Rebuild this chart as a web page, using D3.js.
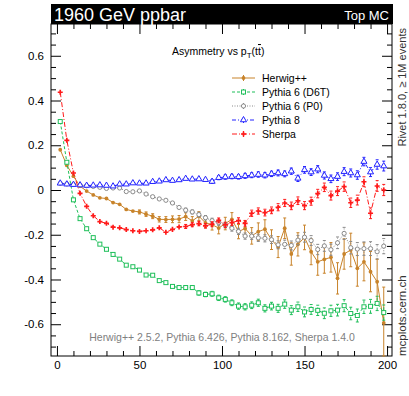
<!DOCTYPE html>
<html><head><meta charset="utf-8">
<script src="https://cdn.jsdelivr.net/npm/d3@7"></script>
<style>
body{margin:0;background:#fff;}
svg{font-family:"Liberation Sans",Arial,Helvetica,sans-serif;}
</style></head>
<body><svg id="c" width="409" height="396"></svg>
<script>
// ---- data (bins of 4 GeV, centres 2..198) ----
const binCenters = [2,6,10,14,18,22,26,30,34,38,42,46,50,54,58,62,66,70,74,78,82,86,90,94,98,102,106,110,114,118,122,126,130,134,138,142,146,150,154,158,162,166,170,174,178,182,186,190,194,198];
const seriesNames = ["Herwig++","Pythia 6 (D6T)","Pythia 6 (P0)","Pythia 8","Sherpa"];
const herwig = [0.180,0.110,0.062,0.017,-0.005,-0.022,-0.035,-0.038,-0.056,-0.064,-0.087,-0.094,-0.098,-0.108,-0.117,-0.131,-0.132,-0.131,-0.130,-0.119,-0.138,-0.117,-0.147,-0.155,-0.170,-0.150,-0.131,-0.186,-0.172,-0.205,-0.186,-0.175,-0.222,-0.255,-0.171,-0.286,-0.243,-0.212,-0.276,-0.321,-0.310,-0.301,-0.395,-0.286,-0.268,-0.350,-0.321,-0.365,-0.410,-0.594];
const herwigErr = [0.004,0.004,0.004,0.004,0.005,0.005,0.005,0.005,0.006,0.006,0.007,0.008,0.009,0.010,0.011,0.012,0.013,0.015,0.016,0.017,0.019,0.020,0.022,0.024,0.026,0.028,0.030,0.032,0.034,0.037,0.039,0.042,0.044,0.047,0.046,0.050,0.052,0.055,0.058,0.060,0.062,0.066,0.070,0.068,0.075,0.080,0.085,0.090,0.100,0.160];
const d6t = [0.306,0.124,-0.044,-0.128,-0.173,-0.213,-0.242,-0.265,-0.288,-0.309,-0.336,-0.343,-0.358,-0.380,-0.381,-0.405,-0.414,-0.431,-0.436,-0.436,-0.436,-0.460,-0.467,-0.464,-0.482,-0.489,-0.504,-0.519,-0.522,-0.515,-0.504,-0.529,-0.519,-0.529,-0.510,-0.537,-0.522,-0.545,-0.534,-0.538,-0.551,-0.540,-0.537,-0.517,-0.552,-0.561,-0.522,-0.520,-0.507,-0.548];
const d6tErr = [0.003,0.003,0.003,0.003,0.003,0.004,0.004,0.004,0.004,0.005,0.005,0.005,0.006,0.006,0.006,0.007,0.007,0.008,0.008,0.009,0.009,0.010,0.010,0.011,0.012,0.012,0.013,0.014,0.014,0.015,0.016,0.016,0.017,0.018,0.019,0.020,0.021,0.022,0.022,0.023,0.024,0.025,0.026,0.027,0.028,0.029,0.030,0.031,0.032,0.034];
const p0 = [0.030,0.027,0.025,0.022,0.019,0.016,0.012,0.007,0.009,0.009,-0.007,-0.008,-0.004,-0.018,-0.030,-0.040,-0.046,-0.058,-0.078,-0.090,-0.098,-0.110,-0.124,-0.137,-0.146,-0.157,-0.171,-0.185,-0.206,-0.206,-0.214,-0.216,-0.222,-0.245,-0.243,-0.248,-0.224,-0.211,-0.226,-0.266,-0.250,-0.267,-0.236,-0.194,-0.258,-0.264,-0.262,-0.262,-0.276,-0.251];
const p0Err = [0.003,0.003,0.003,0.003,0.003,0.004,0.004,0.004,0.004,0.005,0.005,0.005,0.006,0.006,0.006,0.007,0.007,0.008,0.008,0.009,0.009,0.010,0.010,0.011,0.012,0.012,0.013,0.014,0.014,0.015,0.016,0.016,0.017,0.018,0.019,0.020,0.021,0.022,0.022,0.023,0.024,0.025,0.026,0.027,0.028,0.029,0.030,0.031,0.032,0.034];
const py8 = [0.030,0.026,0.024,0.022,0.020,0.021,0.022,0.020,0.017,0.026,0.026,0.031,0.030,0.030,0.037,0.039,0.045,0.042,0.045,0.051,0.048,0.049,0.046,0.038,0.055,0.058,0.060,0.059,0.063,0.066,0.069,0.066,0.072,0.076,0.072,0.084,0.052,0.090,0.080,0.093,0.065,0.050,0.060,0.082,0.076,0.067,0.127,0.080,0.114,0.107];
const py8Err = [0.003,0.003,0.003,0.003,0.003,0.003,0.004,0.004,0.004,0.004,0.005,0.005,0.005,0.005,0.006,0.006,0.006,0.007,0.007,0.007,0.008,0.008,0.008,0.009,0.009,0.010,0.010,0.010,0.011,0.011,0.012,0.012,0.012,0.013,0.013,0.014,0.014,0.015,0.015,0.016,0.016,0.017,0.017,0.018,0.018,0.019,0.019,0.020,0.021,0.022];
const sherpa = [0.437,0.222,0.076,-0.015,-0.073,-0.115,-0.141,-0.149,-0.166,-0.169,-0.177,-0.182,-0.185,-0.182,-0.178,-0.169,-0.189,-0.176,-0.165,-0.163,-0.155,-0.150,-0.160,-0.153,-0.136,-0.156,-0.146,-0.137,-0.149,-0.104,-0.094,-0.101,-0.091,-0.077,-0.058,-0.071,-0.048,-0.070,-0.050,-0.016,0.012,-0.025,-0.005,0.015,-0.057,-0.045,0.037,-0.104,0.018,0.000];
const sherpaErr = [0.003,0.003,0.003,0.003,0.003,0.004,0.004,0.004,0.004,0.005,0.005,0.005,0.006,0.006,0.006,0.007,0.007,0.008,0.008,0.009,0.009,0.010,0.010,0.011,0.011,0.012,0.012,0.013,0.013,0.014,0.014,0.015,0.015,0.016,0.016,0.017,0.017,0.018,0.018,0.019,0.019,0.020,0.020,0.021,0.021,0.022,0.022,0.024,0.024,0.025];
const xMajorTicks = [0,50,100,150,200];
const yMajorTicks = [-0.6,-0.4,-0.2,0,0.2,0.4,0.6];
const yTickLabels = ["-0.6","-0.4","-0.2","0","0.2","0.4","0.6"];

// ---- layout ----
const svg = d3.select("#c");
const L=51, R=392, T=24, B=356;
const x = d3.scaleLinear().domain([-3.6,203]).range([L,R]);
const y = d3.scaleLinear().domain([-0.742,0.742]).range([B,T]);

const styles = [
  {name:seriesNames[0], vals:herwig, err:herwigErr, color:"#c8832a", dash:null, marker:"fcircle"},
  {name:seriesNames[1], vals:d6t, err:d6tErr, color:"#1fbf5a", dash:"3,2", marker:"square"},
  {name:seriesNames[2], vals:p0, err:p0Err, color:"#8a8a8a", dash:"1,1.5", marker:"circle"},
  {name:seriesNames[3], vals:py8, err:py8Err, color:"#2222ff", dash:"4,2,1,2", marker:"triangle"},
  {name:seriesNames[4], vals:sherpa, err:sherpaErr, color:"#ff1a1a", dash:"5,2,1,2", marker:"cross"}
];

// axes
const minorX = d3.range(0,201,10).filter(v=>v%50!==0);
const minorY = d3.range(-14,15).map(v=>v*0.05).filter(v=>Math.abs(Math.round(v*100))%20!==0);
function styleAxis(g){g.select(".domain").remove(); g.selectAll("line").attr("stroke","#000"); g.selectAll("text").attr("fill","#000").style("font-size","11.5px").attr("font-family","Liberation Sans, Arial, sans-serif");}
svg.append("g").attr("transform",`translate(0,${B})`).call(d3.axisBottom(x).tickValues(xMajorTicks).tickSize(-10).tickPadding(5).tickFormat(d3.format("d"))).call(styleAxis);
svg.append("g").attr("transform",`translate(0,${B})`).call(d3.axisBottom(x).tickValues(minorX).tickSize(-5).tickFormat("")).call(styleAxis);
svg.append("g").attr("transform",`translate(0,${T})`).call(d3.axisTop(x).tickValues(xMajorTicks).tickSize(-10).tickFormat("")).call(styleAxis);
svg.append("g").attr("transform",`translate(0,${T})`).call(d3.axisTop(x).tickValues(minorX).tickSize(-5).tickFormat("")).call(styleAxis);
svg.append("g").attr("transform",`translate(${L},0)`).call(d3.axisLeft(y).tickValues(yMajorTicks).tickSize(-10).tickPadding(7).tickFormat((d,i)=>yTickLabels[i])).call(styleAxis);
svg.append("g").attr("transform",`translate(${L},0)`).call(d3.axisLeft(y).tickValues(minorY).tickSize(-5).tickFormat("")).call(styleAxis);
svg.append("g").attr("transform",`translate(${R},0)`).call(d3.axisRight(y).tickValues(yMajorTicks).tickSize(-10).tickFormat("")).call(styleAxis);
svg.append("g").attr("transform",`translate(${R},0)`).call(d3.axisRight(y).tickValues(minorY).tickSize(-5).tickFormat("")).call(styleAxis);
svg.append("rect").attr("x",L).attr("y",T).attr("width",R-L).attr("height",B-T).attr("fill","none").attr("stroke","#000").attr("stroke-width",1);

// title bar
svg.append("rect").attr("x",L).attr("y",4).attr("width",R-L+1).attr("height",T-4).attr("fill","#000");
svg.append("text").attr("x",54).attr("y",21).attr("fill","#fff").style("font-size","18px").text("1960 GeV ppbar");
svg.append("text").attr("x",389).attr("y",20).attr("fill","#fff").attr("text-anchor","end").style("font-size","13px").text("Top MC");

// marker drawing
function drawMarker(g, m, color, cx, cy){
  if(m==="fcircle") g.append("circle").attr("cx",cx).attr("cy",cy).attr("r",1.9).attr("fill",color);
  else if(m==="circle") g.append("circle").attr("cx",cx).attr("cy",cy).attr("r",2.1).attr("fill","#fff").attr("stroke",color).attr("stroke-width",1);
  else if(m==="square") g.append("rect").attr("x",cx-2).attr("y",cy-2).attr("width",4).attr("height",4).attr("fill","#fff").attr("stroke",color).attr("stroke-width",1);
  else if(m==="triangle") g.append("path").attr("transform",`translate(${cx},${cy})`).attr("d",d3.symbol(d3.symbolTriangle,16)()).attr("fill","#fff").attr("stroke",color).attr("stroke-width",1);
  else if(m==="cross") g.append("path").attr("transform",`translate(${cx},${cy})`).attr("d",d3.symbol(d3.symbolCross,14)()).attr("fill",color);
}

const plot = svg.append("g");
styles.forEach(s=>{
  const g = plot.append("g");
  const line = d3.line().x((d,i)=>x(binCenters[i])).y(d=>y(d));
  g.append("path").attr("d",line(s.vals)).attr("fill","none").attr("stroke",s.color).attr("stroke-width",1).attr("stroke-dasharray",s.dash);
  s.vals.forEach((v,i)=>{
    const cx=x(binCenters[i]);
    const y1=Math.min(B,y(v-s.err[i])), y2=y(v+s.err[i]);
    if(y1-y2>4){
      g.append("line").attr("x1",cx).attr("x2",cx).attr("y1",y1).attr("y2",y2).attr("stroke",s.color).attr("stroke-width",1).attr("stroke-dasharray",s.dash);
      g.append("line").attr("x1",cx-1.5).attr("x2",cx+1.5).attr("y1",y1).attr("y2",y1).attr("stroke",s.color);
      g.append("line").attr("x1",cx-1.5).attr("x2",cx+1.5).attr("y1",y2).attr("y2",y2).attr("stroke",s.color);
    }
    drawMarker(g,s.marker,s.color,cx,y(v));
  });
});

// header text
const ht = svg.append("text").attr("x",172).attr("y",55).attr("fill","#000").style("font-size","10.5px");
ht.append("tspan").text("Asymmetry vs p");
ht.append("tspan").attr("dy",3).style("font-size","8px").text("T");
ht.append("tspan").attr("dy",-3).text("(t");
ht.append("tspan").style("text-decoration","overline").text("t");
ht.append("tspan").text(")");

// legend
styles.forEach((s,i)=>{
  const ly = 78 + i*14;
  svg.append("line").attr("x1",232).attr("x2",255).attr("y1",ly).attr("y2",ly).attr("stroke",s.color).attr("stroke-dasharray",s.dash);
  svg.append("line").attr("x1",243.5).attr("x2",243.5).attr("y1",ly-3).attr("y2",ly+3).attr("stroke",s.color);
  drawMarker(svg,s.marker,s.color,243.5,ly);
  svg.append("text").attr("x",262).attr("y",ly+4).attr("fill","#000").style("font-size","10.5px").text(s.name);
});

// footer/generator text
svg.append("text").attr("x",222).attr("y",341).attr("text-anchor","middle").attr("fill","#808080").style("font-size","10.5px").text("Herwig++ 2.5.2, Pythia 6.426, Pythia 8.162, Sherpa 1.4.0");

// side texts
svg.append("text").attr("transform","translate(406,28) rotate(-90)").attr("text-anchor","end").attr("fill","#333").style("font-size","11px").text("Rivet 1.8.0, \u2265 1M events");
svg.append("text").attr("transform","translate(406,356) rotate(-90)").attr("text-anchor","start").attr("fill","#333").style("font-size","11.5px").text("mcplots.cern.ch");
</script></body></html>
